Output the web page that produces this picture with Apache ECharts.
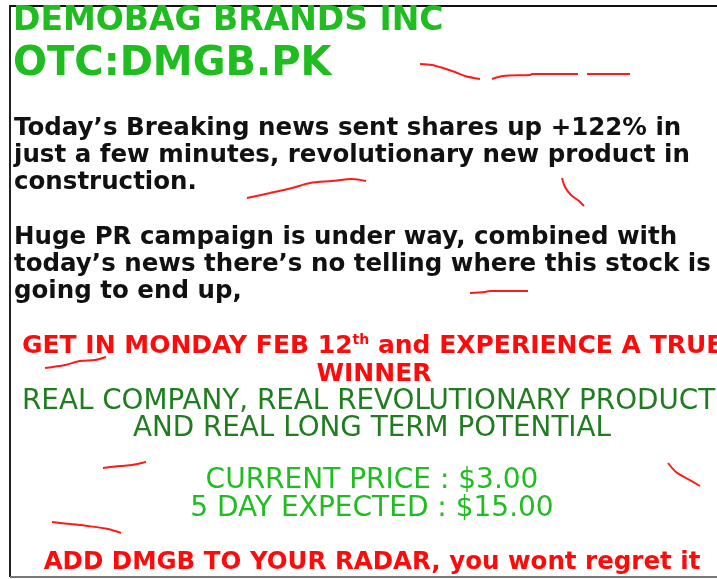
<!DOCTYPE html>
<html>
<head>
<meta charset="utf-8">
<script src="https://cdn.jsdelivr.net/npm/echarts@6/dist/echarts.min.js"></script>
<style>
  html, body { margin: 0; padding: 0; background: #fff; }
  #main { width: 717px; height: 579px; }
</style>
</head>
<body>
<div id="main"></div>
<script>
// texts of the flyer
const headLines = ['DEMOBAG BRANDS INC', 'OTC:DMGB.PK'];
const newsLines = [
  'Today\u2019s Breaking news sent shares up +122% in',
  'just a few minutes, revolutionary new product in',
  'construction.'
];
const prLines = [
  'Huge PR campaign is under way, combined with',
  'today\u2019s news there\u2019s no telling where this stock is',
  'going to end up,'
];
const redLines = ['GET IN MONDAY FEB 12{sup|th} and EXPERIENCE A TRUE', 'WINNER'];
const realLines = ['REAL COMPANY, REAL REVOLUTIONARY PRODUCT', 'AND REAL LONG TERM POTENTIAL'];
const priceLines = ['CURRENT PRICE : $3.00', '5 DAY EXPECTED : $15.00'];
const footLine = 'ADD DMGB TO YOUR RADAR, you wont regret it';

// red pen strokes (x, y in pixels)
const strokes = [
  [[420, 64], [432, 65], [443, 68], [455, 72], [465, 76], [480, 79]],
  [[492, 79], [503, 76], [530, 75], [532, 74], [578, 74]],
  [[587, 74], [630, 74]],
  [[247, 198], [270, 193], [292, 188], [310, 183], [332, 181], [352, 179], [366, 181]],
  [[562, 178], [565, 187], [571, 195], [579, 201], [584, 206]],
  [[470, 293], [485, 292], [490, 291], [528, 291]],
  [[45, 368], [65, 365], [80, 361], [95, 360], [106, 357]],
  [[103, 468], [120, 466], [132, 465], [146, 462]],
  [[668, 463], [676, 472], [686, 478], [700, 486]],
  [[52, 522], [70, 524], [88, 526], [108, 529], [121, 533]]
];

const chart = echarts.init(document.getElementById('main'));

const green = '#1fbd1f';
const darkGreen = '#1f7d1f';
const red = '#ff0a0a';

function textItem(text, x, y, font, fill, align, rich) {
  return {
    type: 'text',
    x: x, y: y,
    z: 10,
    style: {
      text: text,
      font: font,
      fill: fill,
      align: align || 'left',
      verticalAlign: 'middle',
      rich: rich
    }
  };
}

const graphics = [];
// frame
graphics.push({ type: 'line', shape: { x1: 10, y1: 6, x2: 717, y2: 6 }, style: { stroke: '#111', lineWidth: 2 } });
graphics.push({ type: 'line', shape: { x1: 10, y1: 5, x2: 10, y2: 577 }, style: { stroke: '#222', lineWidth: 2 } });
graphics.push({ type: 'line', shape: { x1: 10, y1: 577, x2: 717, y2: 577 }, style: { stroke: '#777', lineWidth: 2 } });

graphics.push(textItem(headLines[0], 13, 21, 'bold 33px "DejaVu Sans"', green));
graphics.push(textItem(headLines[1], 13, 65, 'bold 40px "DejaVu Sans"', green));

newsLines.forEach(function (t, i) {
  graphics.push(textItem(t, 14, 129 + i * 27, 'bold 24.5px "DejaVu Sans"', '#111'));
});
prLines.forEach(function (t, i) {
  graphics.push(textItem(t, 14, 238 + i * 27, 'bold 24.5px "DejaVu Sans"', '#111'));
});

graphics.push(textItem(redLines[0], 22, 346, 'bold 25px "DejaVu Sans"', red, 'left', {
  sup: { font: 'bold 14px "DejaVu Sans"', fill: red, verticalAlign: 'top', padding: [0, 0, 12, 0] }
}));
graphics.push(textItem(redLines[1], 374, 374, 'bold 25px "DejaVu Sans"', red, 'center'));
graphics.push(textItem(realLines[0], 22, 402, '27.8px "DejaVu Sans"', darkGreen));
graphics.push(textItem(realLines[1], 372, 429, '27.8px "DejaVu Sans"', darkGreen, 'center'));
priceLines.forEach(function (t, i) {
  graphics.push(textItem(t, 372, 481 + i * 28, '28px "DejaVu Sans"', green, 'center'));
});
graphics.push(textItem(footLine, 372, 563, 'bold 24.5px "DejaVu Sans"', red, 'center'));

chart.setOption({
  backgroundColor: '#ffffff',
  animation: false,
  grid: { left: 0, right: 0, top: 0, bottom: 0 },
  xAxis: { type: 'value', min: 0, max: 717, show: false },
  yAxis: { type: 'value', min: 0, max: 579, inverse: true, show: false },
  series: strokes.map(function (pts) {
    return {
      type: 'line',
      data: pts,
      showSymbol: false,
      smooth: 0.3,
      lineStyle: { color: '#ff1a1a', width: 2 },
      z: 5
    };
  }),
  graphic: graphics
});
</script>
</body>
</html>
